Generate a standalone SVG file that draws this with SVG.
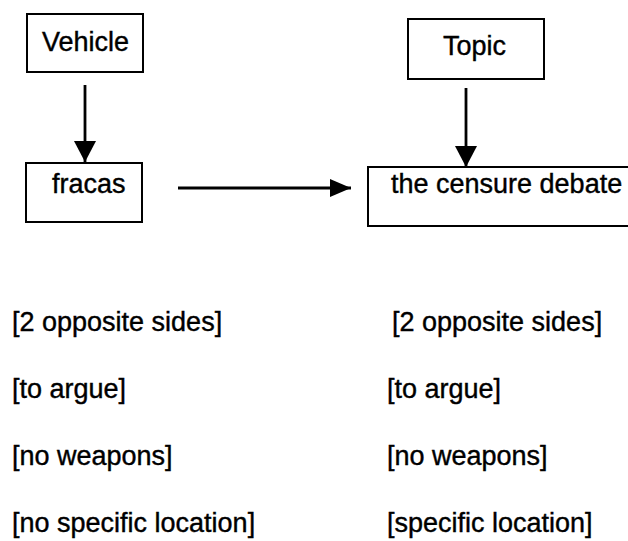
<svg xmlns="http://www.w3.org/2000/svg" width="628" height="541" viewBox="0 0 628 541">
<defs>
<style>
.box{fill:#fff;stroke:#000;stroke-width:2}
.lbl,.item{font-family:"Liberation Sans",Arial,Helvetica,sans-serif;font-size:27px;fill:#000;stroke:#000;stroke-width:0.4}
.conn{stroke:#000;stroke-width:2.8;fill:none}
</style>
<marker id="ah" markerUnits="userSpaceOnUse" markerWidth="22" markerHeight="22" viewBox="0 0 22 22" refX="21" refY="11" orient="auto">
<path d="M0,0 L21,11 L0,22 Z" fill="#000"/>
</marker>
<marker id="ah2" markerUnits="userSpaceOnUse" markerWidth="22" markerHeight="20" viewBox="0 0 22 20" refX="21" refY="10" orient="auto">
<path d="M0,1 L21,10 L0,19 Z" fill="#000"/>
</marker>
</defs>
<rect width="628" height="541" fill="#fff"/>
<g id="connectors">
<line class="conn" x1="85" y1="85" x2="85" y2="162" marker-end="url(#ah)"/>
<line class="conn" x1="466" y1="88" x2="466" y2="167" marker-end="url(#ah)"/>
<line class="conn" x1="178" y1="188" x2="351" y2="188" marker-end="url(#ah2)"/>
</g>
<g id="vehicle">
<rect class="box" x="27" y="14" width="116" height="58"/>
<text class="lbl" x="42" y="51">Vehicle</text>
</g>
<g id="topic">
<rect class="box" x="408" y="19" width="136" height="60"/>
<text class="lbl" x="443" y="55">Topic</text>
</g>
<g id="fracas">
<rect class="box" x="26" y="163" width="116" height="59"/>
<text class="lbl" x="52" y="193">fracas</text>
</g>
<g id="censure">
<rect class="box" x="368" y="167" width="272" height="59"/>
<text class="lbl" x="391" y="193">the censure debate</text>
</g>
<g id="left-list">
<text class="item" x="12" y="331">[2 opposite sides]</text>
<text class="item" x="12" y="398">[to argue]</text>
<text class="item" x="12" y="465">[no weapons]</text>
<text class="item" x="12" y="532">[no specific location]</text>
</g>
<g id="right-list">
<text class="item" x="392" y="331">[2 opposite sides]</text>
<text class="item" x="387" y="398">[to argue]</text>
<text class="item" x="387" y="465">[no weapons]</text>
<text class="item" x="387" y="532">[specific location]</text>
</g>
</svg>
